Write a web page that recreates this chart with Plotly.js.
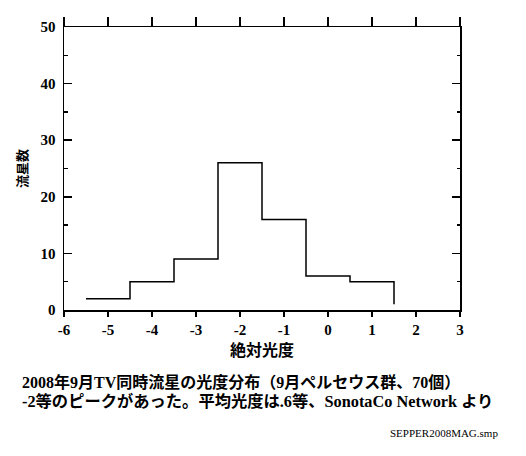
<!DOCTYPE html>
<html>
<head>
<meta charset="utf-8">
<script src="https://cdn.plot.ly/plotly-3.0.1.min.js"></script>
<style>html,body{margin:0;padding:0;background:#fff;}#chart{width:526px;height:456px;}</style>
</head>
<body>
<div id="chart"></div>
<script>
// Absolute magnitude bin edges (step positions) and meteor counts
const magnitudes = [-5.5, -4.5, -3.5, -2.5, -1.5, -0.5, 0.5, 1.5];
const counts = [2, 5, 9, 26, 16, 6, 5, 1];
const xTickVals = [-6, -5, -4, -3, -2, -1, 0, 1, 2, 3];
const yTickVals = [0, 10, 20, 30, 40, 50];
const xTitle = '絶対光度';
const yTitle = '流星数';
const caption1 = '2008年9月TV同時流星の光度分布（9月ペルセウス群、70個）';
const caption2 = '-2等のピークがあった。平均光度は.6等、SonotaCo Network より';
const caption3 = 'SEPPER2008MAG.smp';

const serif = 'Liberation Serif, Times New Roman, serif';
const mixed = 'Liberation Serif, Noto Sans CJK JP, serif';
const cjk = 'Noto Sans CJK JP, sans-serif';

const traces = [
  {x: magnitudes, y: counts, type: 'scatter', mode: 'lines',
   line: {shape: 'hv', color: '#000', width: 1.5}, hoverinfo: 'skip', showlegend: false},
  {x: magnitudes, y: counts, xaxis: 'x2', yaxis: 'y2', type: 'scatter', mode: 'lines',
   line: {color: 'rgba(0,0,0,0)', width: 0}, hoverinfo: 'skip', showlegend: false}
];

const tickFont = {family: serif, size: 15, color: '#000', weight: 'bold'};

const layout = {
  width: 526, height: 456,
  margin: {l: 64, r: 66, t: 27, b: 146},
  paper_bgcolor: '#fff', plot_bgcolor: '#fff',
  showlegend: false,
  xaxis: {
    range: [-6, 3], tickvals: xTickVals, ticktext: xTickVals.map(String),
    ticks: 'outside', ticklen: 5, tickwidth: 1.5, tickcolor: '#000',
    showline: true, linecolor: '#000', linewidth: 1.5,
    showgrid: false, zeroline: false, tickfont: tickFont,
    title: {text: xTitle, font: {family: cjk, size: 16, color: '#000', weight: 'bold'}, standoff: 3}
  },
  xaxis2: {
    overlaying: 'x', side: 'top', range: [-6, 3], tickvals: xTickVals,
    ticks: 'outside', ticklen: 9, tickwidth: 1.5, tickcolor: '#000',
    showline: true, linecolor: '#000', linewidth: 1.5,
    showticklabels: false, showgrid: false, zeroline: false
  },
  yaxis: {
    range: [0, 50], tickvals: yTickVals, ticktext: yTickVals.map(String),
    ticks: 'inside', ticklen: 8, tickwidth: 1.5, tickcolor: '#000',
    minor: {dtick: 5, ticks: 'inside', ticklen: 4, tickwidth: 1.5, tickcolor: '#000', showgrid: false},
    showline: true, linecolor: '#000', linewidth: 1.5,
    showgrid: false, zeroline: false, tickfont: tickFont, ticklabelstandoff: 4,
    title: {text: yTitle, font: {family: cjk, size: 13, color: '#000', weight: 'bold'}, standoff: 10}
  },
  yaxis2: {
    overlaying: 'y', side: 'right', range: [0, 50], tickvals: yTickVals,
    ticks: 'inside', ticklen: 8, tickwidth: 1.5, tickcolor: '#000',
    minor: {dtick: 5, ticks: 'inside', ticklen: 3, tickwidth: 1.5, tickcolor: '#000', showgrid: false},
    showline: true, linecolor: '#000', linewidth: 1.5,
    showticklabels: false, showgrid: false, zeroline: false
  },
  annotations: [
    {text: caption1, xref: 'paper', yref: 'paper', x: -0.111, y: -0.2534, xanchor: 'left', yanchor: 'middle',
     showarrow: false, font: {family: mixed, size: 16, color: '#000', weight: 'bold'}},
    {text: caption2, xref: 'paper', yref: 'paper', x: -0.111, y: -0.3216, xanchor: 'left', yanchor: 'middle',
     showarrow: false, font: {family: mixed, size: 16.3, color: '#000', weight: 'bold'}},
    {text: caption3, xref: 'paper', yref: 'paper', x: 1.101, y: -0.4336, xanchor: 'right', yanchor: 'middle',
     showarrow: false, font: {family: serif, size: 11, color: '#000'}}
  ]
};

Plotly.newPlot('chart', traces, layout, {staticPlot: true, displayModeBar: false});
</script>
</body>
</html>
